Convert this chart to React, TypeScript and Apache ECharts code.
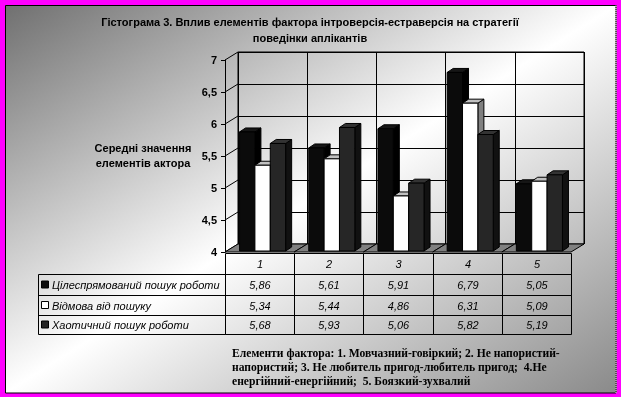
import React, { useEffect, useRef } from "react";
import * as echarts from "echarts";

const categories = ["1", "2", "3", "4", "5"];
const seriesNames = ["Цілеспрямований пошук роботи", "Відмова від пошуку", "Хаотичний пошук роботи"];
const goalSearch = [5.86, 5.61, 5.91, 6.79, 5.05];
const refusal = [5.34, 5.44, 4.86, 6.31, 5.09];
const chaotic = [5.68, 5.93, 5.06, 5.82, 5.19];
const yTicks = [4, 4.5, 5, 5.5, 6, 6.5, 7];
const titleLines = [
  "Гістограма 3. Вплив елементів фактора інтроверсія-естраверсія на стратегії",
  "поведінки аплікантів",
];
const yAxisName = ["Середні значення", "елементів актора"];
const noteLines = [
  "Елементи фактора: 1. Мовчазний-говіркий; 2. Не напористий-",
  "напористий; 3. Не любитель пригод-любитель пригод;  4.Не",
  "енергійний-енергійний;  5. Боязкий-зухвалий",
];

const SANS = "'Liberation Sans', Arial, sans-serif";
const SERIF = "'Liberation Serif', 'Times New Roman', serif";
const DX = 13;
const DY = -8;
const BDX = 6;
const BDY = -4;

const barStyles = [
  { front: "#0b0b0b", side: "#000000", top: "#161616", stroke: "#000" },
  { front: "#ffffff", side: "#808080", top: "#c0c0c0", stroke: "#000" },
  { front: "#262626", side: "#111111", top: "#333333", stroke: "#000" },
];

const fmt = (v: number) => v.toFixed(2).replace(".", ",");

const ROW_TOP = [253, 274, 295, 315];
const ROW_BOT = [274, 295, 315, 334];

export default function App() {
  const ref = useRef<HTMLDivElement>(null);
  useEffect(() => {
    if (!ref.current) return;
    const chart = echarts.init(ref.current, null, { renderer: "svg" });
    const allSeries = [goalSearch, refusal, chaotic];

    const barSeries = allSeries.map((vals, k) => ({
      type: "custom",
      name: seriesNames[k],
      xAxisIndex: 0,
      yAxisIndex: 0,
      z: 5 + k,
      data: vals.map((v, i) => [i, v]),
      renderItem: (params: any, api: any) => {
        const i = api.value(0);
        const v = api.value(1);
        const top = api.coord([i, v]);
        const base = api.coord([i, 4]);
        const catW = api.size([1, 0])[0];
        const bw = catW * 0.222;
        const x0 = top[0] - 1.5 * bw + 3 + k * bw;
        const x1 = x0 + bw;
        const yT = top[1] - 1;
        const yB = base[1] - 1;
        const s = barStyles[k];
        return {
          type: "group",
          children: [
            {
              type: "polygon",
              shape: { points: [[x1, yB], [x1 + BDX, yB + BDY], [x1 + BDX, yT + BDY], [x1, yT]] },
              style: { fill: s.side, stroke: s.stroke, lineWidth: 1 },
            },
            {
              type: "polygon",
              shape: { points: [[x0, yT], [x1, yT], [x1 + BDX, yT + BDY], [x0 + BDX, yT + BDY]] },
              style: { fill: s.top, stroke: s.stroke, lineWidth: 1 },
            },
            {
              type: "rect",
              shape: { x: x0, y: yT, width: bw, height: yB - yT },
              style: { fill: s.front, stroke: s.stroke, lineWidth: 1 },
            },
          ],
        };
      },
    }));

    const option: any = {
      animation: false,
      grid: [
        { left: 225, top: 60, width: 346, height: 192, containLabel: false },
        { left: 238, top: 52, width: 346, height: 192, show: true, borderColor: "#000", borderWidth: 1, backgroundColor: "transparent" },
      ],
      xAxis: [
        { type: "category", data: categories, gridIndex: 0, show: false },
        {
          type: "category",
          data: categories,
          gridIndex: 1,
          axisLine: { show: false },
          axisTick: { show: false },
          axisLabel: { show: false },
          splitLine: { show: true, lineStyle: { color: "#000", width: 1 } },
        },
      ],
      yAxis: [
        {
          type: "value",
          gridIndex: 0,
          min: 4,
          max: 7,
          interval: 0.5,
          axisLine: { show: true, lineStyle: { color: "#000", width: 1 } },
          axisTick: { show: true, length: 4, lineStyle: { color: "#000" } },
          axisLabel: {
            margin: 8,
            fontFamily: SANS,
            fontSize: 11,
            fontWeight: "bold",
            color: "#000",
            formatter: (v: number) => String(v).replace(".", ","),
          },
          splitLine: { show: false },
        },
        {
          type: "value",
          gridIndex: 1,
          min: 4,
          max: 7,
          interval: 0.5,
          axisLine: { show: false },
          axisTick: { show: false },
          axisLabel: { show: false },
          splitLine: { show: true, lineStyle: { color: "#000", width: 1 } },
        },
      ],
      graphic: [
        { type: "rect", z: -100, silent: true, shape: { x: 0, y: 0, width: 621, height: 397 }, style: { fill: "#ff00ff" } },
        {
          type: "rect",
          z: -99,
          silent: true,
          shape: { x: 5.5, y: 5.5, width: 610.5, height: 387.5 },
          style: {
            fill: new echarts.graphic.LinearGradient(0, 0, 1, 1, [
              { offset: 0, color: "#707070" },
              { offset: 0.5, color: "#ffffff" },
              { offset: 1, color: "#8a8a8a" },
            ]),
            stroke: "#000",
            lineWidth: 1,
          },
        },
        {
          type: "line",
          z: -98,
          silent: true,
          shape: { x1: 616, y1: 5, x2: 616, y2: 393 },
          style: { stroke: "#ffffff", lineWidth: 1 },
        },
        {
          type: "line",
          z: -97,
          silent: true,
          shape: { x1: 616, y1: 5, x2: 616, y2: 393 },
          style: { stroke: "#000", lineWidth: 1, lineDash: [1, 1] },
        },
        ...titleLines.map((line, j) => ({
          type: "text",
          z: 10,
          style: {
            text: line,
            x: 310,
            y: 22 + j * 16,
            align: "center",
            verticalAlign: "middle",
            font: `bold 11px ${SANS}`,
            fill: "#000",
          },
        })),
        {
          type: "text",
          z: 10,
          style: {
            text: yAxisName.join("\n"),
            x: 143,
            y: 155,
            align: "center",
            verticalAlign: "middle",
            font: `bold 11px ${SANS}`,
            lineHeight: 15,
            fill: "#000",
          },
        },
        // Table label column
        {
          type: "rect",
          z: 10,
          shape: { x: 38.5, y: 274.5, width: 187, height: 60 },
          style: { fill: "none", stroke: "#000", lineWidth: 1 },
        },
        ...[1, 2].map((r) => ({
          type: "line",
          z: 10,
          shape: { x1: 38.5, y1: ROW_TOP[r + 1] + 0.5, x2: 225.5, y2: ROW_TOP[r + 1] + 0.5 },
          style: { stroke: "#000", lineWidth: 1 },
        })),
        ...seriesNames.map((name, k) => ({
          type: "group",
          z: 10,
          children: [
            {
              type: "rect",
              shape: { x: 41.5, y: (ROW_TOP[k + 1] + ROW_BOT[k + 1]) / 2 - 3.5, width: 7, height: 7 },
              style: { fill: barStyles[k].front, stroke: "#000", lineWidth: 1 },
            },
            {
              type: "text",
              style: {
                text: name,
                x: 52,
                y: (ROW_TOP[k + 1] + ROW_BOT[k + 1]) / 2 + 0.5,
                align: "left",
                verticalAlign: "middle",
                font: `italic 11px ${SANS}`,
                fill: "#000",
              },
            },
          ],
        })),
        ...noteLines.map((line, j) => ({
          type: "text",
          z: 10,
          style: {
            text: line,
            x: 232,
            y: 353 + j * 14,
            align: "left",
            verticalAlign: "middle",
            font: `bold 11.6px ${SERIF}`,
            fill: "#000",
          },
        })),
      ],
      series: [
        // left wall diagonals
        {
          type: "custom",
          xAxisIndex: 0,
          yAxisIndex: 0,
          z: 3,
          data: yTicks.map((v) => [0, v]),
          renderItem: (params: any, api: any) => {
            const c = api.coord([0, api.value(1)]);
            const catW = api.size([1, 0])[0];
            const x = c[0] - catW / 2;
            return {
              type: "line",
              shape: { x1: x, y1: c[1], x2: x + DX, y2: c[1] + DY },
              style: { stroke: "#000", lineWidth: 1 },
            };
          },
        },
        // floor
        {
          type: "custom",
          xAxisIndex: 0,
          yAxisIndex: 0,
          z: 4,
          data: categories.map((_, i) => [i, 4]),
          renderItem: (params: any, api: any) => {
            const c = api.coord([api.value(0), 4]);
            const w = api.size([1, 0])[0];
            const x0 = c[0] - w / 2;
            const x1 = c[0] + w / 2;
            const y = c[1];
            return {
              type: "polygon",
              shape: { points: [[x0, y], [x1, y], [x1 + DX, y + DY], [x0 + DX, y + DY]] },
              style: { fill: "#808080", stroke: "#000", lineWidth: 1 },
            };
          },
        },
        ...barSeries,
        // data table cells
        {
          type: "custom",
          xAxisIndex: 0,
          yAxisIndex: 0,
          z: 10,
          data: categories.map((_, i) => [i, goalSearch[i], refusal[i], chaotic[i]]),
          encode: { x: 0, y: 1 },
          renderItem: (params: any, api: any) => {
            const i = api.value(0);
            const c = api.coord([i, 4]);
            const w = api.size([1, 0])[0];
            const x0 = Math.round(c[0] - w / 2) + 0.5;
            const x1 = Math.round(c[0] + w / 2) + 0.5;
            const cx = (x0 + x1) / 2;
            const children: any[] = [];
            const texts = [categories[i], fmt(api.value(1)), fmt(api.value(2)), fmt(api.value(3))];
            for (let r = 0; r < 4; r++) {
              children.push({
                type: "rect",
                shape: { x: x0, y: ROW_TOP[r] + 0.5, width: x1 - x0, height: ROW_BOT[r] - ROW_TOP[r] },
                style: { fill: "none", stroke: "#000", lineWidth: 1 },
              });
              children.push({
                type: "text",
                style: {
                  text: texts[r],
                  x: cx,
                  y: (ROW_TOP[r] + ROW_BOT[r]) / 2 + 0.5,
                  align: "center",
                  verticalAlign: "middle",
                  font: `italic 11px ${SANS}`,
                  fill: "#000",
                },
              });
            }
            return { type: "group", children };
          },
        },
      ],
    };
    chart.setOption(option);
    return () => chart.dispose();
  }, []);
  return (
    <div
      ref={ref}
      style={{ position: "fixed", left: 0, top: 0, width: 621, height: 397 }}
    />
  );
}
